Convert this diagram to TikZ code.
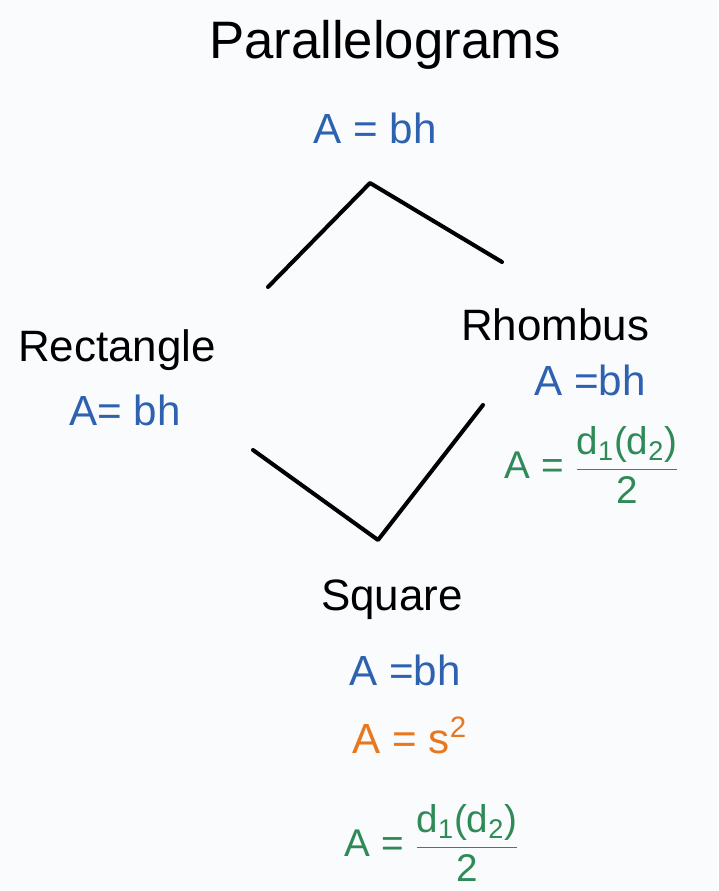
\documentclass[tikz,border=0pt]{standalone}
\usepackage{amsmath}
\usepackage{fontspec}
\setmainfont{Liberation Sans}
\usepackage{tikz}
\usetikzlibrary{positioning,calc}
\definecolor{penblue}{RGB}{46,98,176}
\definecolor{pengreen}{RGB}{46,139,87}
\definecolor{penorange}{RGB}{232,119,30}
\definecolor{paper}{RGB}{250,251,253}
\tikzset{
  T/.style={text=black, font=\fontsize{30}{34}\selectfont, inner sep=1pt},
  L/.style={text=black, font=\fontsize{25}{29}\selectfont, inner sep=1pt},
  FB/.style={text=penblue, font=\fontsize{24}{28}\selectfont, inner sep=1pt},
  FG/.style={text=pengreen, font=\fontsize{22}{26}\selectfont, inner sep=1pt},
  FO/.style={text=penorange, font=\fontsize{24}{28}\selectfont, inner sep=1pt},
  PL/.style={line width=2.3pt, line cap=round, line join=round}
}
\newcommand{\halfdiag}{%
  $\dfrac{\text{d\textsubscript{1}(d\textsubscript{2})}}{\text{2}}$}

\begin{document}
\begin{tikzpicture}[x=0.02cm, y=-0.02cm]

% ---- canvas ----
\fill[paper] (0,0) rectangle (718,891);
\useasboundingbox (0,0) rectangle (718,891);

% ---- top: parallelograms ----
\node[T] (PAR) at (385,45) {Parallelograms};
\node[FB] (PARA) at (375,128) {A = bh};

% ---- middle row ----
\node[L] (RECT) at (117,350) {Rectangle};
\node[FB] (RECTA) at (125,410) {A= bh};

\node[L] (RHOM) at (555,325) {Rhombus};
\node[FB] (RHOMA) at (590,380) {A =bh};
\node[FG] (RHOMD) at (592,465) {A = \halfdiag};

% ---- bottom: square ----
\node[L] (SQ) at (392,600) {Square};
\node[FB] (SQA) at (405,670) {A =bh};
\node[FO] (SQS) at (410,735) {A = s$^{\mathrm{2}}$};
\node[FG] (SQD) at (432,843) {A = \halfdiag};

% ---- diamond ends ----
\coordinate (TL) at (268,287);
\coordinate (TOP) at (370,183);
\coordinate (TR) at (502,262);
\coordinate (BL) at (253,450);
\coordinate (BOT) at (378,540);
\coordinate (BR) at (483,405);

% ---- connectors ----
\draw[PL] (TL) -- (TOP) -- (TR);
\draw[PL] (BL) -- (BOT) -- (BR);

\end{tikzpicture}
\end{document}
